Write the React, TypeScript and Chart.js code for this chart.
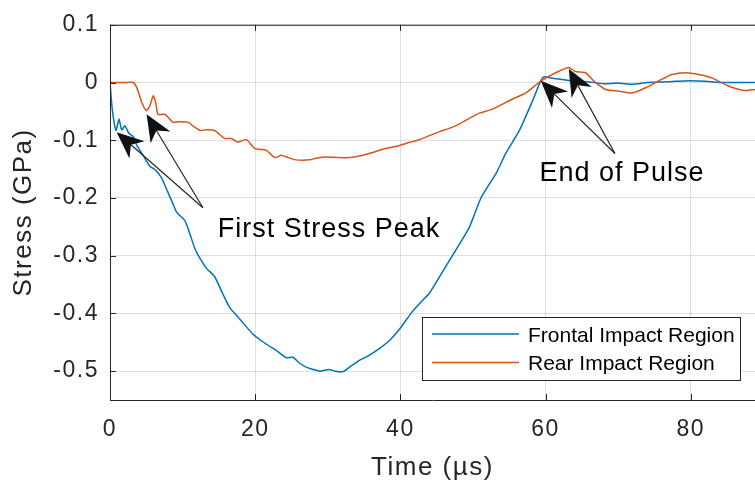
import { useEffect, useRef } from 'react';
import { Chart, registerables } from 'chart.js';

Chart.register(...registerables);

// Frontal impact region: stress history (µs, GPa)
const timeFrontal = [
  0, 0.3, 0.82, 1.24, 1.6, 2.06, 2.6, 3.2, 3.7, 4.5, 5.5, 6.3, 7.1, 7.8, 8.5, 9.2, 10.3,
  11.0, 11.7, 12.5, 13.3, 14.4, 15.5, 16.5, 17.9, 19.7, 21.5, 22.9, 24.3, 25.2, 26.0,
  27.0, 28.0, 28.9, 30.2, 31.0, 32.1, 33.0, 34.4, 35.5, 37.1, 38.5, 39.9, 41.7, 43.0,
  44.0, 45.8, 47.6, 49.5, 51.1, 53.2, 54.5, 56.4, 58.2, 59.3, 59.8, 60.7, 61.9, 63.0,
  64.6, 66, 68, 70, 72, 74, 76, 78, 80, 82, 84, 86, 88.85,
];
const stressFrontal = [
  0, -0.045, -0.083, -0.063, -0.082, -0.075, -0.088, -0.094, -0.109, -0.125, -0.145, -0.152,
  -0.165, -0.185, -0.205, -0.225, -0.239, -0.262, -0.288, -0.307, -0.322, -0.336,
  -0.365, -0.39, -0.41, -0.436, -0.453, -0.464, -0.477, -0.476, -0.485, -0.493, -0.497,
  -0.5, -0.497, -0.5, -0.501, -0.493, -0.481, -0.474, -0.461, -0.447, -0.427, -0.396,
  -0.378, -0.365, -0.328, -0.291, -0.251, -0.2, -0.157, -0.123, -0.083, -0.032, 0.002,
  0.01, 0.008, 0.006, 0.004, 0.002, 0.001, -0.002, -0.001, -0.003, 0.0, 0.001, 0.002,
  0.003, 0.002, 0.0, 0.0, 0.0,
];

// Rear impact region: stress history (µs, GPa)
const timeRear = [
  0, 1, 2, 3.2, 3.8, 4.3, 5.0, 5.5, 5.95, 6.3, 6.6, 7.5, 8.0, 8.7, 9.5, 10.8, 11.5,
  12.4, 13.3, 14.4, 15.1, 15.8, 16.7, 17.6, 18.8, 19.9, 20.7, 21.5, 22.7, 23.6, 24.5,
  25.6, 27.5, 28.4, 29.8, 31.5, 33, 34.5, 35.7, 37.5, 39.9, 41.2, 42.6, 44, 45.4, 46.8,
  48.1, 49.5, 50.9, 52.7, 55.4, 57.3, 59.3, 61.4, 63.2, 64.1, 65.5, 66.7, 68.3, 70.1,
  71.9, 73.8, 75.6, 77.4, 79.3, 81.1, 82.9, 85.2, 87.5, 88.85,
];
const stressRear = [
  0, 0, 0, 0, -0.012, -0.032, -0.049, -0.04, -0.023, -0.035, -0.055, -0.055, -0.06,
  -0.069, -0.068, -0.069, -0.076, -0.083, -0.082, -0.083, -0.09, -0.097, -0.097, -0.103,
  -0.099, -0.114, -0.116, -0.117, -0.13, -0.126, -0.13, -0.134, -0.134, -0.131, -0.129,
  -0.13, -0.13, -0.127, -0.123, -0.116, -0.109, -0.104, -0.099, -0.092, -0.085, -0.079,
  -0.072, -0.062, -0.053, -0.046, -0.029, -0.018, 0.002, 0.017, 0.026, 0.019, 0.017,
  0.002, -0.012, -0.015, -0.018, -0.009, 0.003, 0.014, 0.017, 0.014, 0.008, -0.006,
  -0.014, -0.012,
];

const seriesLabels = ['Frontal Impact Region', 'Rear Impact Region'];
const seriesColors = ['#0072BD', '#D95319'];
const timeTicks = [0, 20, 40, 60, 80];
const stressTicks = [-0.5, -0.4, -0.3, -0.2, -0.1, 0, 0.1];
const timeRange = [0, 88.85];
const stressRange = [-0.55, 0.1];

// Callouts in data coordinates: text anchor, arrow tail, arrow tips
const peakText = 'First Stress Peak';
const peakAt = [30.1, -0.255];
const peakTail = [12.8, -0.217];
const peakTips = [[0.92, -0.086], [5.04, -0.055]];
const endText = 'End of Pulse';
const endAt = [70.45, -0.158];
const endTail = [69.55, -0.123];
const endTips = [[59.34, 0.003], [63.2, 0.024]];

const FONT = '"Liberation Sans", Arial, Helvetica, sans-serif';
const AXIS = '#262626';
const GRID = 'rgba(38,38,38,0.15)';
const SPACING = '1.5px';

function drawArrow(ctx: CanvasRenderingContext2D, x0: number, y0: number, x1: number, y1: number) {
  const ang = Math.atan2(y1 - y0, x1 - x0);
  const ux = Math.cos(ang);
  const uy = Math.sin(ang);
  const px = -uy;
  const py = ux;
  const L = 27;
  const W = 11.5;
  const N = 19;
  const bx = x1 - ux * N;
  const by = y1 - uy * N;
  ctx.beginPath();
  ctx.moveTo(x0, y0);
  ctx.lineTo(bx, by);
  ctx.strokeStyle = AXIS;
  ctx.lineWidth = 1.2;
  ctx.stroke();
  ctx.beginPath();
  ctx.moveTo(x1, y1);
  ctx.lineTo(x1 - ux * L + px * W, y1 - uy * L + py * W);
  ctx.lineTo(bx, by);
  ctx.lineTo(x1 - ux * L - px * W, y1 - uy * L - py * W);
  ctx.closePath();
  ctx.fillStyle = '#111';
  ctx.fill();
}

const setSpacing = (chart: any) => {
  (chart.ctx as any).letterSpacing = SPACING;
};

const figurePlugin = {
  id: 'figureDecor',
  afterInit: setSpacing,
  beforeUpdate: setSpacing,
  beforeDraw(chart: any) {
    const ctx = chart.ctx as CanvasRenderingContext2D;
    ctx.save();
    ctx.fillStyle = '#ffffff';
    ctx.fillRect(0, 0, chart.width, chart.height);
    ctx.restore();
    setSpacing(chart);
  },
  afterDatasetsDraw(chart: any) {
    const ctx = chart.ctx as CanvasRenderingContext2D;
    const xs = chart.scales.x;
    const ys = chart.scales.y;
    const P = (p: number[]) => [xs.getPixelForValue(p[0]), ys.getPixelForValue(p[1])];
    ctx.save();
    const callouts = [
      { text: peakText, at: peakAt, tail: peakTail, tips: peakTips },
      { text: endText, at: endAt, tail: endTail, tips: endTips },
    ];
    for (const c of callouts) {
      const [tx, ty] = P(c.tail);
      for (const tip of c.tips) {
        const [hx, hy] = P(tip);
        drawArrow(ctx, tx, ty, hx, hy);
      }
      const [ax, ay] = P(c.at);
      (ctx as any).letterSpacing = '1px';
      ctx.font = `27px ${FONT}`;
      ctx.fillStyle = '#000';
      ctx.textAlign = 'center';
      ctx.textBaseline = 'middle';
      ctx.fillText(c.text, ax + 0.5, ay);
    }
    ctx.restore();
  },
  afterDraw(chart: any) {
    const ctx = chart.ctx as CanvasRenderingContext2D;
    const { left, right, top, bottom } = chart.chartArea;
    const xs = chart.scales.x;
    const ys = chart.scales.y;
    ctx.save();
    ctx.strokeStyle = AXIS;
    ctx.lineWidth = 1;
    ctx.beginPath();
    // axes box (left, bottom, top)
    ctx.moveTo(left + 0.5, top);
    ctx.lineTo(left + 0.5, bottom + 0.5);
    ctx.moveTo(left, bottom + 0.5);
    ctx.lineTo(right, bottom + 0.5);
    ctx.moveTo(left, top + 0.5);
    ctx.lineTo(right, top + 0.5);
    // inward tick marks
    for (const v of stressTicks) {
      const y = Math.round(ys.getPixelForValue(v)) + 0.5;
      ctx.moveTo(left, y);
      ctx.lineTo(left + 6, y);
    }
    for (const v of timeTicks) {
      const x = Math.round(xs.getPixelForValue(v)) + 0.5;
      ctx.moveTo(x, bottom);
      ctx.lineTo(x, bottom - 6);
      ctx.moveTo(x, top);
      ctx.lineTo(x, top + 6);
    }
    ctx.stroke();

    // legend box
    const bx = 422.5;
    const by = 317.5;
    const bw = 318;
    const bh = 63;
    ctx.fillStyle = '#fff';
    ctx.fillRect(bx, by, bw, bh);
    ctx.strokeRect(bx, by, bw, bh);
    (ctx as any).letterSpacing = '0px';
    ctx.font = `21px ${FONT}`;
    ctx.textAlign = 'left';
    ctx.textBaseline = 'middle';
    chart.data.datasets.forEach((ds: any, i: number) => {
      const ly = by + 16.5 + i * 28.5;
      ctx.beginPath();
      ctx.strokeStyle = ds.borderColor;
      ctx.lineWidth = 1.5;
      ctx.moveTo(432, ly);
      ctx.lineTo(519, ly);
      ctx.stroke();
      ctx.fillStyle = '#000';
      ctx.fillText(ds.label, 528, ly + 2);
    });
    ctx.restore();
    setSpacing(chart);
  },
};

function pointsOf(ts: number[], vs: number[]) {
  return ts.map((t, i) => ({ x: t, y: vs[i] }));
}

export default function App() {
  const canvasRef = useRef<HTMLCanvasElement | null>(null);

  useEffect(() => {
    const canvas = canvasRef.current;
    if (!canvas) return;
    Chart.defaults.font.family = FONT;
    const chart = new Chart(canvas, {
      type: 'line',
      data: {
        datasets: [
          {
            label: seriesLabels[0],
            data: pointsOf(timeFrontal, stressFrontal),
            borderColor: seriesColors[0],
            backgroundColor: seriesColors[0],
            borderWidth: 1.5,
            pointRadius: 0,
            tension: 0.2,
            fill: false,
            order: 1,
          },
          {
            label: seriesLabels[1],
            data: pointsOf(timeRear, stressRear),
            borderColor: seriesColors[1],
            backgroundColor: seriesColors[1],
            borderWidth: 1.5,
            pointRadius: 0,
            tension: 0.2,
            fill: false,
            order: 0,
          },
        ],
      },
      options: {
        responsive: false,
        animation: false,
        events: [],
        layout: { padding: { top: 19, right: 0, bottom: 0, left: 0 } },
        plugins: {
          legend: { display: false },
          tooltip: { enabled: false },
        },
        scales: {
          x: {
            type: 'linear',
            min: timeRange[0],
            max: timeRange[1],
            afterBuildTicks: (s: any) => {
              s.ticks = timeTicks.map((v) => ({ value: v }));
            },
            afterFit: (s: any) => {
              s.height = 92;
            },
            grid: { color: GRID, drawTicks: false, lineWidth: 1 },
            border: { display: false },
            ticks: {
              color: AXIS,
              font: { size: 23 },
              padding: 16,
              maxRotation: 0,
              autoSkip: false,
              callback: (v: any) => String(v),
            },
            title: {
              display: true,
              text: 'Time (µs)',
              color: AXIS,
              font: { size: 26 },
              padding: { top: 0, bottom: 9 },
            },
          },
          y: {
            type: 'linear',
            min: stressRange[0],
            max: stressRange[1],
            afterBuildTicks: (s: any) => {
              s.ticks = stressTicks.map((v) => ({ value: v }));
            },
            afterFit: (s: any) => {
              s.width = 110;
            },
            grid: { color: GRID, drawTicks: false, lineWidth: 1 },
            border: { display: false },
            ticks: {
              color: AXIS,
              font: { size: 23 },
              padding: 11,
              autoSkip: false,
              callback: (v: any) => String(Math.round(v * 10) / 10),
            },
            title: {
              display: true,
              text: 'Stress (GPa)',
              color: AXIS,
              font: { size: 26 },
              padding: { top: 8, bottom: 0 },
            },
          },
        },
      },
      plugins: [figurePlugin],
    });
    return () => chart.destroy();
  }, []);

  return (
    <div style={{ position: 'fixed', left: 0, top: 0, width: 755, height: 492, background: '#fff' }}>
      <canvas ref={canvasRef} width={755} height={492} style={{ display: 'block' }} />
    </div>
  );
}
